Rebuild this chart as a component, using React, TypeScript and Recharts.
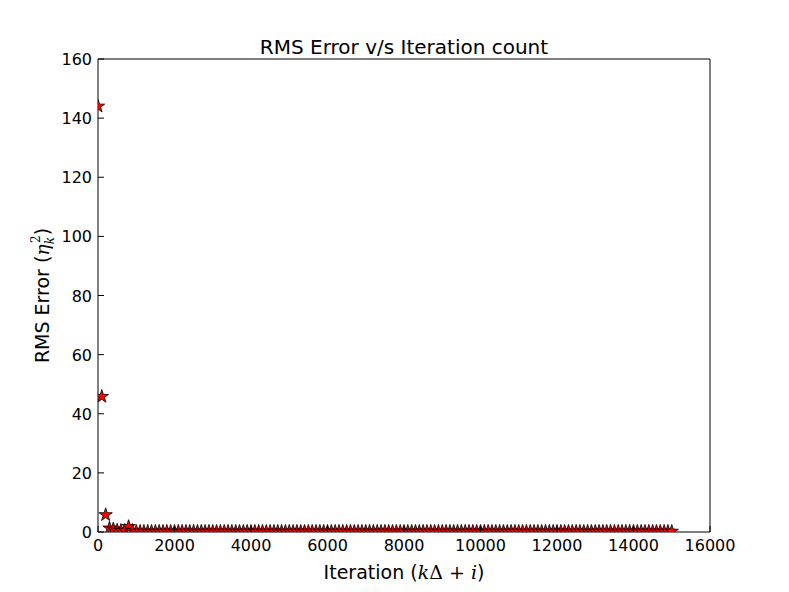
import React from "react";
import { ScatterChart, Scatter, XAxis, YAxis } from "recharts";

// iteration step between stored RMS samples
const ITER_STEP = 100;

const X_TICKS = [0, 2000, 4000, 6000, 8000, 10000, 12000, 14000, 16000];
const Y_TICKS = [0, 20, 40, 60, 80, 100, 120, 140, 160];

// RMS error, one value every ITER_STEP iterations (0 .. 15000)
const RMS = [
  144, 45.8, 5.8, 1.3, 1.0, 0.6, 0.5, 0.5, 1.8, 0.5,
  0.2, 0.2, 0.2, 0.2, 0.2, 0.2, 0.2, 0.2, 0.2, 0.2,
  0.2, 0.2, 0.2, 0.2, 0.2, 0.2, 0.2, 0.2, 0.2, 0.2,
  0.2, 0.2, 0.2, 0.2, 0.2, 0.2, 0.2, 0.2, 0.2, 0.2,
  0.2, 0.2, 0.2, 0.2, 0.2, 0.2, 0.2, 0.2, 0.2, 0.2,
  0.2, 0.2, 0.2, 0.2, 0.2, 0.2, 0.2, 0.2, 0.2, 0.2,
  0.2, 0.2, 0.2, 0.2, 0.2, 0.2, 0.2, 0.2, 0.2, 0.2,
  0.2, 0.2, 0.2, 0.2, 0.2, 0.2, 0.2, 0.2, 0.2, 0.2,
  0.2, 0.2, 0.2, 0.2, 0.2, 0.2, 0.2, 0.2, 0.2, 0.2,
  0.2, 0.2, 0.2, 0.2, 0.2, 0.2, 0.2, 0.2, 0.2, 0.2,
  0.2, 0.2, 0.2, 0.2, 0.2, 0.2, 0.2, 0.2, 0.2, 0.2,
  0.2, 0.2, 0.2, 0.2, 0.2, 0.2, 0.2, 0.2, 0.2, 0.2,
  0.2, 0.2, 0.2, 0.2, 0.2, 0.2, 0.2, 0.2, 0.2, 0.2,
  0.2, 0.2, 0.2, 0.2, 0.2, 0.2, 0.2, 0.2, 0.2, 0.2,
  0.2, 0.2, 0.2, 0.2, 0.2, 0.2, 0.2, 0.2, 0.2, 0.2,
  0.2,
];

const data = RMS.map((v, i) => ({ iter: i * ITER_STEP, rms: v }));

const FONT = "'DejaVu Sans', sans-serif";
const W = 789;
const H = 592;
// plot area: x 98..710, y 59..532 (axes take 1px each)
const M = { top: 58, right: 78, bottom: 59, left: 97 };
const TICK = 6;

function Star(props: any) {
  const { cx, cy } = props;
  const R = 7;
  const r = R * 0.382;
  const pts: string[] = [];
  for (let k = 0; k < 10; k++) {
    const rad = k % 2 === 0 ? R : r;
    const a = -Math.PI / 2 + (k * Math.PI) / 5;
    pts.push(`${cx + rad * Math.cos(a)},${cy + rad * Math.sin(a)}`);
  }
  return <polygon points={pts.join(" ")} fill="#ff0000" stroke="#000" strokeWidth={0.8} />;
}

const BottomTick = (p: any) => (
  <g>
    <line x1={p.x} x2={p.x} y1={p.y} y2={p.y - TICK} stroke="#000" />
    <text x={p.x} y={p.y + 19} textAnchor="middle" fontSize={16} fontFamily={FONT} fill="#000">
      {p.payload.value}
    </text>
  </g>
);
const TopTick = (p: any) => (
  <line x1={p.x} x2={p.x} y1={p.y} y2={p.y + TICK} stroke="#000" />
);
const LeftTick = (p: any) => (
  <g>
    <line x1={p.x} x2={p.x + TICK} y1={p.y} y2={p.y} stroke="#000" />
    <text x={p.x - 6} y={p.y + 6} textAnchor="end" fontSize={16} fontFamily={FONT} fill="#000">
      {p.payload.value}
    </text>
  </g>
);
const RightTick = (p: any) => (
  <line x1={p.x} x2={p.x - TICK} y1={p.y} y2={p.y} stroke="#000" />
);

export default function App() {
  const plotL = 98;
  const plotW = 612;
  const plotT = 59;
  const plotH = 473;
  return (
    <div style={{ position: "absolute", left: 0, top: 0, width: W, height: H, background: "#fff" }}>
      <ScatterChart width={W} height={H} margin={M}>
        <XAxis
          dataKey="iter"
          type="number"
          domain={[0, 16000]}
          ticks={X_TICKS}
          allowDataOverflow
          height={1}
          tickSize={0}
          tickMargin={0}
          tickLine={false}
          axisLine={{ stroke: "#000" }}
          tick={<BottomTick />}
          interval={0}
        />
        <XAxis
          xAxisId="top"
          orientation="top"
          type="number"
          domain={[0, 16000]}
          ticks={X_TICKS}
          height={1}
          tickSize={0}
          tickMargin={0}
          tickLine={false}
          axisLine={{ stroke: "#000" }}
          tick={<TopTick />}
          interval={0}
        />
        <YAxis
          dataKey="rms"
          type="number"
          domain={[0, 160]}
          ticks={Y_TICKS}
          allowDataOverflow
          width={1}
          tickSize={0}
          tickMargin={0}
          tickLine={false}
          axisLine={{ stroke: "#000" }}
          tick={<LeftTick />}
          interval={0}
        />
        <YAxis
          yAxisId="right"
          orientation="right"
          type="number"
          domain={[0, 160]}
          ticks={Y_TICKS}
          width={1}
          tickSize={0}
          tickMargin={0}
          tickLine={false}
          axisLine={{ stroke: "#000" }}
          tick={<RightTick />}
          interval={0}
        />
        <Scatter data={data} shape={<Star />} isAnimationActive={false} />
      </ScatterChart>
      <svg
        width={W}
        height={H}
        style={{ position: "absolute", left: 0, top: 0, pointerEvents: "none" }}
        fontFamily={FONT}
      >
        <text x={plotL + plotW / 2} y={plotT - 5} textAnchor="middle" fontSize={20}>
          RMS Error v/s Iteration count
        </text>
        <text x={plotL + plotW / 2} y={H - 13} textAnchor="middle" fontSize={19}>
          Iteration (<tspan fontFamily="'DejaVu Serif', serif" fontStyle="italic">k</tspan>
          <tspan fontFamily="'DejaVu Serif', serif">Δ + </tspan>
          <tspan fontFamily="'DejaVu Serif', serif" fontStyle="italic">i</tspan>)
        </text>
        <text
          transform={`translate(49, ${plotT + plotH / 2}) rotate(-90)`}
          textAnchor="middle"
          fontSize={19}
        >
          RMS Error (<tspan fontFamily="'DejaVu Serif', serif" fontStyle="italic">η</tspan>
          <tspan fontFamily="'DejaVu Serif', serif" fontStyle="italic" fontSize={12} dy={5}>k</tspan>
          <tspan fontFamily="'DejaVu Serif', serif" fontSize={12} dx={-6} dy={-14}>2</tspan>
          <tspan dy={9}>)</tspan>
        </text>
      </svg>
    </div>
  );
}
